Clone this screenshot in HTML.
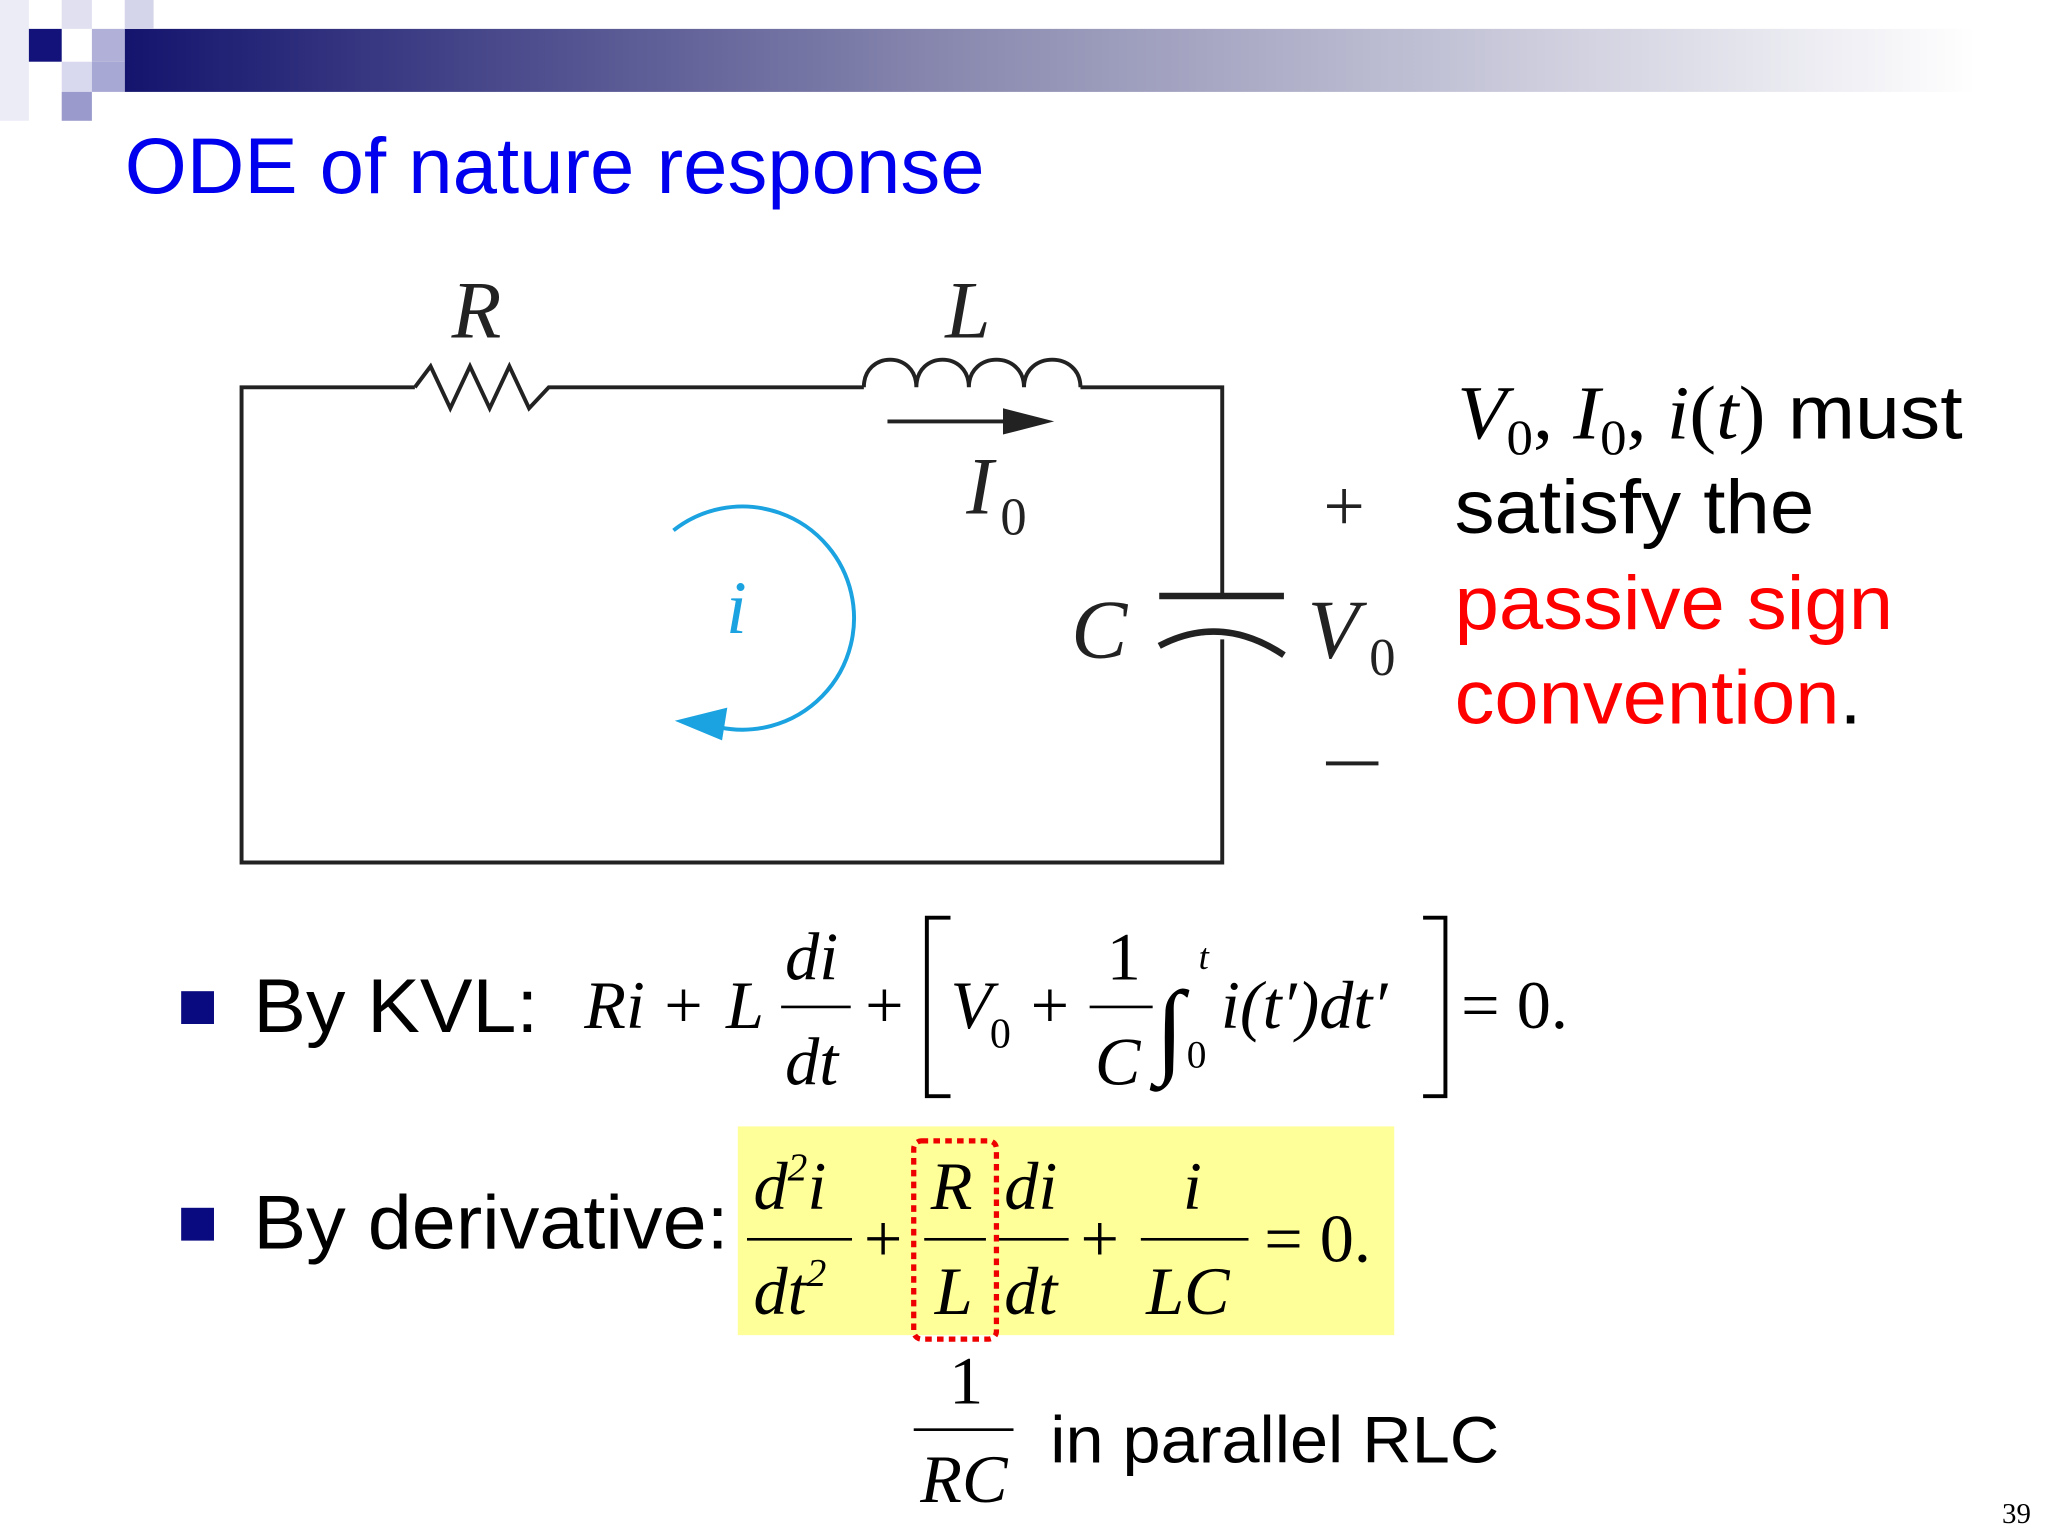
<!DOCTYPE html>
<html><head><meta charset="utf-8"><style>
html,body{margin:0;padding:0;background:#fff;}
svg{display:block}
.s{font-family:"Liberation Sans",sans-serif}
.m{font-family:"Liberation Serif",serif;font-style:italic}
.n{font-family:"Liberation Serif",serif}
</style></head><body>
<svg width="2048" height="1536" viewBox="0 0 1560 1170" xmlns="http://www.w3.org/2000/svg">
<defs><linearGradient id="g" x1="0" x2="1"><stop offset="0" stop-color="#14146e"/><stop offset="0.45" stop-color="#8a8ab0"/><stop offset="1" stop-color="#ffffff"/></linearGradient></defs>
<rect x="95" y="22" width="1410" height="48" fill="url(#g)"/>
<rect x="0" y="0" width="22" height="92" fill="#ececf6"/>
<rect x="22" y="22" width="25" height="25" fill="#12127a"/>
<rect x="47" y="0" width="23" height="22" fill="#e0e0f0"/>
<rect x="70" y="22" width="25" height="25" fill="#b0b0d8"/>
<rect x="95" y="0" width="22" height="22" fill="#d4d4ea"/>
<rect x="47" y="47" width="23" height="23" fill="#d8d8ee"/>
<rect x="70" y="47" width="25" height="23" fill="#a8a8d4"/>
<rect x="47" y="70" width="23" height="22" fill="#9a9acc"/>
<text x="95" y="147" class="s" font-size="60" fill="#0000ee" textLength="655" lengthAdjust="spacingAndGlyphs">ODE of nature response</text>

<g fill="none" stroke="#222" stroke-width="3">
<path d="M316 295 H184 V657 H931 V487 M931 454 V295 H823"/>
<path d="M316 295 L328 279 L343 311 L358 279 L373 311 L388 279 L403 311 L418 295 H658"/>
<path d="M658 295 C658 267 698 267 698 295 C698 267 738 267 738 295 C738 267 780 267 780 295 C780 267 823 267 823 295"/>
<path d="M883 454 H978" stroke-width="5"/>
<path d="M883 492 Q930 467 978 499" stroke-width="5"/>
<path d="M676 321 H768"/>
</g>
<path d="M803 321 L764 311 L764 331 Z" fill="#222"/>
<text x="344" y="257" class="m" font-size="62" fill="#222">R</text>
<text x="720" y="257" class="m" font-size="62" fill="#222">L</text>
<text x="736" y="391" class="m" font-size="62" fill="#222">I</text>
<text x="762" y="407" class="n" font-size="40" fill="#222">0</text>
<path d="M513 404 A85 85 0 1 1 548 554" fill="none" stroke="#1aa3e0" stroke-width="3"/>
<path d="M514 549 L554 539 L550 564 Z" fill="#1aa3e0"/>
<text x="553" y="482" class="m" font-size="57" fill="#1aa3e0">i</text>
<text x="816" y="501" class="m" font-size="64" fill="#222">C</text>
<text x="996" y="501" class="m" font-size="64" fill="#222">V</text>
<text x="1043" y="514" class="n" font-size="40" fill="#222">0</text>
<text x="1008" y="404" class="n" font-size="56" fill="#222">+</text>
<rect x="1010" y="580" width="40" height="3" fill="#222"/>

<text x="1110" y="334" font-size="58" fill="#000" textLength="385" lengthAdjust="spacingAndGlyphs"><tspan class="m">V</tspan><tspan class="n" font-size="38" dy="12">0</tspan><tspan class="n" dy="-12">, </tspan><tspan class="m">I</tspan><tspan class="n" font-size="38" dy="12">0</tspan><tspan class="n" dy="-12">, </tspan><tspan class="m">i</tspan><tspan class="n">(</tspan><tspan class="m">t</tspan><tspan class="n">)</tspan><tspan class="s"> must</tspan></text>
<text x="1108" y="406" class="s" font-size="58" fill="#000" textLength="274" lengthAdjust="spacingAndGlyphs">satisfy the</text>
<text x="1108" y="479" class="s" font-size="58" fill="#ff0000" textLength="334" lengthAdjust="spacingAndGlyphs">passive sign</text>
<text x="1108" y="551" class="s" font-size="58" fill="#ff0000" textLength="310" lengthAdjust="spacingAndGlyphs">convention<tspan fill="#000">.</tspan></text>

<rect x="138" y="755" width="25" height="25" fill="#0a0a80"/>
<text x="193" y="786" class="s" font-size="58" fill="#000" textLength="217" lengthAdjust="spacingAndGlyphs">By KVL:</text>
<g fill="#000" font-size="52">
<text x="445" y="783" class="m">Ri</text>
<text x="506" y="783" class="n">+</text>
<text x="553" y="783" class="m">L</text>
<rect x="595" y="766" width="53" height="2"/>
<text x="598" y="746" class="m">di</text>
<text x="598" y="826" class="m">dt</text>
<text x="659" y="783" class="n">+</text>
<path d="M724 699 H706 V835 H724 M1084 699 H1101 V835 H1084" fill="none" stroke="#000" stroke-width="3"/>
<text x="724" y="783" class="m">V</text>
<text x="754" y="798" class="n" font-size="32">0</text>
<text x="785" y="783" class="n">+</text>
<rect x="830" y="766" width="48" height="2"/>
<text x="843" y="746" class="n">1</text>
<text x="834" y="826" class="m">C</text>
<text x="880" y="810" class="m" font-size="80">∫</text>
<text x="913" y="738" class="m" font-size="28">t</text>
<text x="904" y="813" class="n" font-size="30">0</text>
<text x="930" y="783" class="m">i<tspan class="n">(</tspan>t′<tspan class="n">)</tspan>dt′</text>
<text x="1113" y="783" class="n">= 0.</text>
</g>

<rect x="138" y="920" width="25" height="25" fill="#0a0a80"/>
<text x="193" y="951" class="s" font-size="58" fill="#000" textLength="362" lengthAdjust="spacingAndGlyphs">By derivative:</text>
<rect x="562" y="858" width="500" height="159" fill="#ffff99"/>
<rect x="696" y="869" width="63" height="151" rx="6" fill="none" stroke="#ee0000" stroke-width="4" stroke-dasharray="5 4"/>
<g fill="#000" font-size="52">
<rect x="569" y="943" width="80" height="2"/>
<text x="574" y="921" class="m">d<tspan class="n" font-size="30" dy="-22">2</tspan><tspan dy="22">i</tspan></text>
<text x="574" y="1001" class="m">dt<tspan class="n" font-size="30" dy="-22">2</tspan></text>
<text x="658" y="961" class="n">+</text>
<rect x="704" y="943" width="47" height="2"/>
<text x="709" y="921" class="m">R</text>
<text x="712" y="1001" class="m">L</text>
<rect x="761" y="943" width="53" height="2"/>
<text x="765" y="921" class="m">di</text>
<text x="765" y="1001" class="m">dt</text>
<text x="823" y="961" class="n">+</text>
<rect x="869" y="943" width="82" height="2"/>
<text x="901" y="921" class="m">i</text>
<text x="873" y="1001" class="m">LC</text>
<text x="963" y="961" class="n">= 0.</text>
<rect x="696" y="1088" width="76" height="2"/>
<text x="723" y="1069" class="n">1</text>
<text x="701" y="1144" class="m">RC</text>
</g>
<text x="800" y="1114" class="s" font-size="50" fill="#000" textLength="342" lengthAdjust="spacingAndGlyphs">in parallel RLC</text>
<text x="1525" y="1160" class="n" font-size="22" fill="#000">39</text>
</svg>
</body></html>
